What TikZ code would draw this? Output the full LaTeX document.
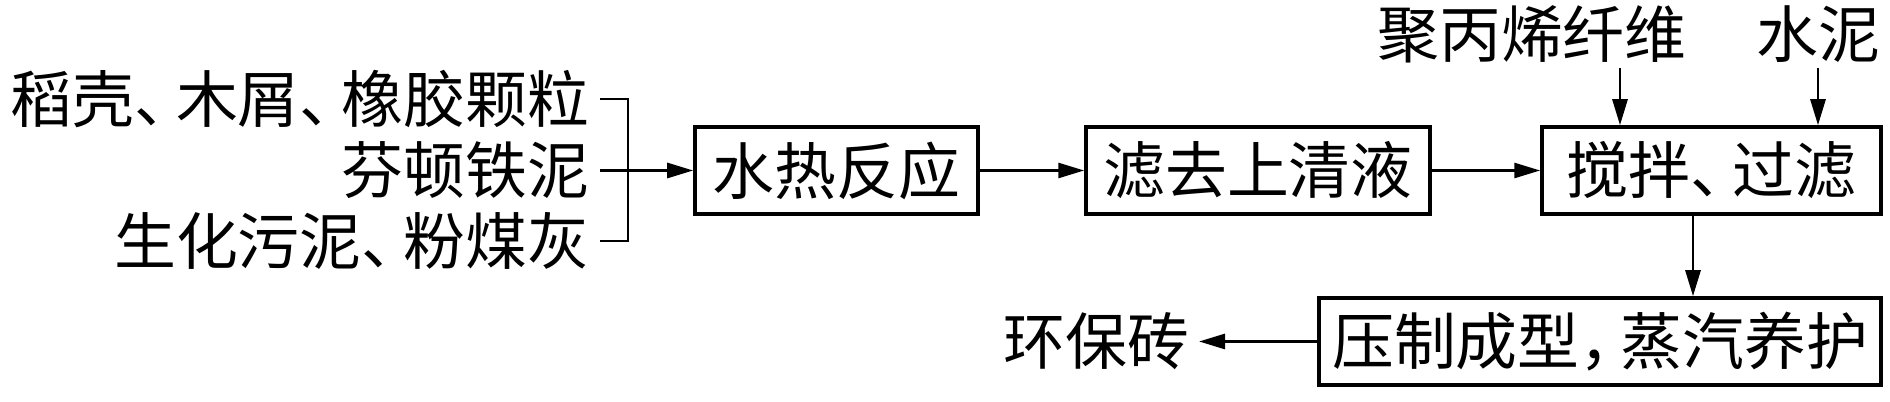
\documentclass[tikz,border=0pt]{standalone}
\usepackage{fontspec}
\newfontfamily\cjk{Noto Sans CJK SC}
\usetikzlibrary{positioning, arrows.meta}
\newcommand{\dunhao}{\makebox[0.68em][l]{、}}
\newcommand{\dauphay}{\makebox[0.66em][l]{，}}

\begin{document}
\begin{tikzpicture}[
        font=\cjk\fontsize{17.6pt}{20pt}\selectfont,
        hop/.style={draw, line width=1pt, inner sep=0pt, minimum height=0.87cm},
        nhan/.style={inner sep=0pt},
        muiten/.style={-{Triangle[length=2.6mm, width=1.5mm]}, line width=0.8pt},
        vach/.style={line width=0.8pt}
    ]
        % Khung ảnh (1 px = 0.01 cm)
        \useasboundingbox (0,0) rectangle (18.9,-4.02);

        % 1. Nguyên liệu bên trái
        \node[nhan, anchor=east] (lbl_nl1) at (5.90,-0.99) {稻壳\dunhao 木屑\dunhao 橡胶颗粒};
        \node[nhan, anchor=east] (lbl_nl2) at (5.90,-1.705) {芬顿铁泥};
        \node[nhan, anchor=east] (lbl_nl3) at (5.90,-2.41) {生化污泥\dunhao 粉煤灰};

        % 2. Các hộp công đoạn
        \node[hop, minimum width=2.83cm] (box_shuire) at (8.365,-1.705) {水热反应};
        \node[hop, minimum width=3.44cm] (box_lvqu) at (12.58,-1.705) {滤去上清液};
        \node[hop, minimum width=3.39cm] (box_jiaoban) at (17.115,-1.705) {搅拌\dunhao 过滤};
        \node[hop, minimum width=5.62cm] (box_yazhi) at (16.00,-3.415) {压制成型\dauphay 蒸汽养护};

        % 3. Phụ gia phía trên và sản phẩm
        \node[nhan] (lbl_jubing) at (15.32,-0.34) {聚丙烯纤维};
        \node[nhan] (lbl_shuini) at (18.18,-0.34) {水泥};
        \node[nhan, anchor=east] (lbl_zhuan) at (11.90,-3.415) {环保砖};

        % 4. Dấu ngoặc gom nguyên liệu
        \draw[vach] ([xshift=1mm]lbl_nl1.east) -- ++(0.28,0) coordinate (ngoac_tren)
            -- (ngoac_tren |- lbl_nl3.east) -- ([xshift=1mm]lbl_nl3.east);
        \draw[muiten] ([xshift=1mm]lbl_nl2.east) -- (box_shuire.west);

        % 5. Mũi tên giữa các công đoạn
        \draw[muiten] (box_shuire) -- (box_lvqu);
        \draw[muiten] (box_lvqu) -- (box_jiaoban);

        % Phụ gia đi xuống hộp khuấy
        \coordinate (vao_jubing) at ([xshift=0.88cm, yshift=-0.05cm]lbl_jubing.south);
        \draw[muiten] (vao_jubing) -- (vao_jubing |- box_jiaoban.north);
        \draw[muiten] ([yshift=-0.05cm]lbl_shuini.south) -- (lbl_shuini.south |- box_jiaoban.north);

        % Xuống hộp ép, rồi ra sản phẩm
        \coordinate (ra_jiaoban) at ([xshift=-0.185cm]box_jiaoban.south);
        \draw[muiten] (ra_jiaoban) -- (ra_jiaoban |- box_yazhi.north);
        \draw[muiten] (box_yazhi.west) -- ([xshift=0.09cm]lbl_zhuan.east);

    \end{tikzpicture}
\end{document}
